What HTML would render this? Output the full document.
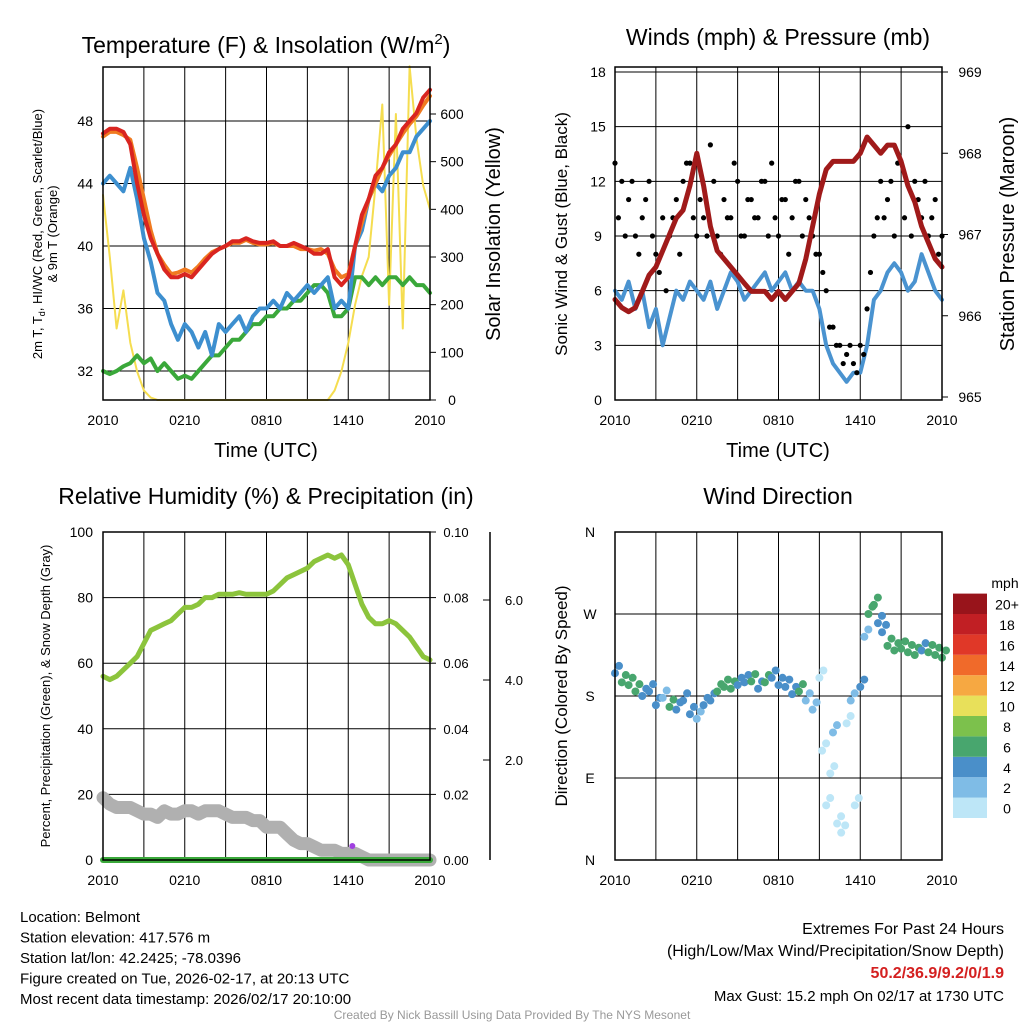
<!DOCTYPE html>
<html><head><meta charset="utf-8"><style>
body{margin:0;background:#fff}
svg text{font-family:"Liberation Sans",sans-serif}
</style></head><body>
<svg id="c" width="1024" height="1024" viewBox="0 0 1024 1024" xmlns="http://www.w3.org/2000/svg"></svg>
<script>
// ---- data (values every 30 min from 2010 UTC to 2010 UTC) ----
const timeLabels=["2010","0210","0810","1410","2010"];
const tempT=[47.2,47.5,47.5,47.3,46.5,44,42,40.5,39.5,38.5,38,38,38.2,38,38.5,39,39.5,39.8,40,40.3,40.3,40.5,40.3,40.2,40.2,40.3,40,40,40.2,40,39.8,39.5,39.5,39.8,38,37.5,38,40,42,43,44.5,45,46,46.5,47.5,48,48.5,49.5,50];
const temp9m=[47,47.3,47.3,47.1,46.8,45,43,41,39.5,38.8,38.2,38.3,38.5,38.3,38.7,39.2,39.6,39.8,40,40.2,40.2,40.4,40.2,40.1,40.1,40.2,40,40,40,39.8,39.8,39.7,39.8,39.5,38.5,38,38.2,40,41.5,43,44,45,45.8,46.5,47.2,47.8,48.3,49,49.6];
const windChill=[44,44.5,44,43.5,45,43,40.5,39,37,36.5,35,34,35,34.5,33.5,34.5,33,35,34.5,35,35.5,34.5,35.5,36,36,36.5,36,37,36.5,37,37.5,37,37.5,38,36,36.5,36,40,41,43,44,43.5,44.5,45,46,46,47,47.5,48];
const dewPt=[32,31.8,32,32.3,32.5,33,32.5,32.8,32,32.5,32,31.5,31.7,31.5,32,32.5,33,33,33.5,34,34,34.5,35,35,35.5,35.5,36,36,36.5,36.5,37,37.5,37.5,37,35.5,35.5,36,38,38,37.5,38,37.5,38,38,37.5,38,37.5,37.5,37];
const solar=[430,300,150,230,120,60,20,5,0,0,0,0,0,0,0,0,0,0,0,0,0,0,0,0,0,0,0,0,0,0,0,0,0,0,20,60,120,200,260,300,450,620,200,600,150,700,550,450,400];
const tempTicks=[32,36,40,44,48];
const solarTicks=[0,100,200,300,400,500,600];
const sonic=[6,5.5,6.5,5,6,4,5,3,4.5,6,5.5,6.5,6,5.5,6.5,5,6,7,6.5,5.5,6,6.5,7,6,6.5,7,6,6.5,6,6,5,3,2,1.5,1,1.5,1.5,3,5.5,6,7,7.5,7,6,6.5,8,7,6,5.5];
const gustA=[13,12,11,9,10,12,8,10,9,11,12,13,9,10,14,9,11,10,12,9,11,10,12,13,9,11,10,12,11,9,8,6,4,3,2.5,2,3,5,9,12,11,9,13,15,12,10,9,11,9];
const gustB=[10,9,12,8,11,9,7,6,10,8,13,10,11,9,12,8,10,13,9,11,10,12,9,10,11,8,12,9,10,8,7,4,3,2,3,1.5,2.5,7,10,10,12,13,10,9,11,12,10,8,9];
const pressure=[966.2,966.1,966.05,966.1,966.3,966.5,966.6,966.8,967.0,967.2,967.3,967.6,968.0,967.6,967.1,966.8,966.7,966.6,966.5,966.4,966.3,966.3,966.3,966.2,966.3,966.2,966.3,966.4,966.7,967.1,967.5,967.8,967.9,967.9,967.9,967.9,968.0,968.2,968.1,968.0,968.1,968.1,967.9,967.6,967.4,967.1,966.9,966.7,966.6];
const windTicks=[0,3,6,9,12,15,18];
const presTicks=[965,966,967,968,969];
const rh=[56,55,56,58,60,62,66,70,71,72,73,75,77,77,78,80,80,81,81,81,81.5,81,81,81,81,82,84,86,87,88,89,91,92,93,92,93,90,84,78,74,72,72,73,72,70,68,65,62,61];
const snowPct=[19,17,16,16,16,15,14,14,13,15,14,14,15,15,14,15,15,15,14,13,13,13,12,12,10,10,10,8,6,5,5,4,3,3,3,2,2,2,1,0,0,0,0,0,0,0,0,0,0];
const precip=[0,0,0,0,0,0,0,0,0,0,0,0,0,0,0,0,0,0,0,0,0,0,0,0,0,0,0,0,0,0,0,0,0,0,0,0,0,0,0,0,0,0,0,0,0,0,0,0,0];
const rhTicks=[0,20,40,60,80,100];
const precipTicks=["0.00","0.02","0.04","0.06","0.08","0.10"];
const snowTicks=["2.0","4.0","6.0"];
const dirHours=[0,0.5,1,1.5,2,2.5,3,3.5,4,4.5,5,5.5,6,6.5,7,7.5,8,8.5,9,9.5,10,10.5,11,11.5,12,12.5,13,13.5,14,14.5,15,15.2,15.5,15.8,16,16.3,16.6,17,17.3,17.6,18,18.3,18.6,19,19.3,19.6,20,20.5,21,21.5,22,22.5,23,23.5,24];
const dirDeg=[205,195,192,185,180,185,170,178,168,165,175,160,155,170,175,185,190,188,192,195,196,188,195,200,192,190,182,185,175,165,200,120,60,95,140,40,30,150,175,60,190,245,270,280,260,250,235,230,232,228,225,230,228,225,222];
const dirSpeed=[5,6,7,6,5,4,4,3,6,4,5,4,3,4,5,7,6,6,5,4,6,5,6,4,5,4,5,6,3,2,1,1,0,1,2,0,1,1,2,0,4,3,7,6,5,4,7,6,6,7,6,5,7,6,6];
const speedLabels=["0","2","4","6","8","10","12","14","16","18","20+"];
const speedColors=["#bde6f7","#7fbce6","#4a8fc9","#48a66e","#7cc14c","#e8e05a","#f6a842","#f06a2a","#e03828","#c11f24","#98141b"];

const NS="http://www.w3.org/2000/svg";
const svg=document.getElementById('c');
function mk(tag,attrs,name,parent){const e=document.createElementNS(NS,tag);for(const k in attrs)e.setAttribute(k,attrs[k]);


(parent||svg).appendChild(e);return e;}
function txt(x,y,s,size,anchor,name,extra){const t=mk('text',Object.assign({x:x,y:y,'font-size':size,'text-anchor':anchor||'middle',fill:'#000'},extra||{}),name);t.textContent=s;return t;}
function xs(p,h){return p.x0+h/24*(p.x1-p.x0);}
function lin(d0,d1,r0,r1){return v=>r0+(v-d0)/(d1-d0)*(r1-r0);}
function series(p,arr,yf,color,w,name){let d='';arr.forEach((v,i)=>{const h=i*24/(arr.length-1);d+=(i?'L':'M')+xs(p,h).toFixed(1)+','+yf(v).toFixed(1);});
mk('path',{d:d,fill:'none',stroke:color,'stroke-width':w,'stroke-linejoin':'round','stroke-linecap':'round'},name);}
function frame(p){
  for(let k=1;k<8;k++){const x=p.x0+k*(p.x1-p.x0)/8;mk('line',{x1:x,x2:x,y1:p.y0,y2:p.y1,stroke:'#000','stroke-width':1},'v-gridline');}
  timeLabels.forEach((l,i)=>{const x=p.x0+i*(p.x1-p.x0)/4;txt(x,p.y1+25,l,14,'middle','x-tick-label');});
}
function box(p){mk('rect',{x:p.x0,y:p.y0,width:p.x1-p.x0,height:p.y1-p.y0,fill:'none',stroke:'#000','stroke-width':1.5},'plot-border');}

// ---- Panel 1 ----
const p1={x0:103,x1:430,y0:67,y1:400};
const yT=lin(32,48,371,121), yS=lin(0,600,400,114);
frame(p1);
tempTicks.forEach(v=>{mk('line',{x1:p1.x0,x2:p1.x1,y1:yT(v),y2:yT(v),stroke:'#000'},'h-gridline');txt(p1.x0-10,yT(v)+5,v,14,'end','y-tick-label');});
solarTicks.forEach(v=>{mk('line',{x1:p1.x1,x2:p1.x1+6,y1:yS(v),y2:yS(v),stroke:'#000'},'y2-tick');txt(p1.x1+22,yS(v)+5,v,14,'middle','y2-tick-label');});
series(p1,solar,yS,'#f5dd50',2,'solar-line');
series(p1,dewPt,yT,'#3aa83a',4,'dewpoint-line');
series(p1,windChill,yT,'#3d8fcf',4,'windchill-line');
series(p1,temp9m,yT,'#f07a20',4,'temp-9m-line');
series(p1,tempT,yT,'#d92520',4,'temp-2m-line');
box(p1);
txt(266,53,'',23,'middle','panel1-title').innerHTML='Temperature (F) &amp; Insolation (W/m<tspan dy="-9" font-size="15">2</tspan><tspan dy="9">)</tspan>';
txt(266,457,'Time (UTC)',20,'middle','x-axis-title');
const yl=txt(0,0,'',13,'middle','y-axis-title-left');yl.setAttribute('transform','translate(42,234) rotate(-90)');
yl.innerHTML='2m T, T<tspan dy="3" font-size="9">d</tspan><tspan dy="-3">, HI/WC (Red, Green, Scarlet/Blue)</tspan>';
const yl2=txt(0,0,'& 9m T (Orange)',13,'middle','y-axis-title-left2');yl2.setAttribute('transform','translate(57,234) rotate(-90)');
const yr=txt(0,0,'Solar Insolation (Yellow)',20,'middle','y-axis-title-right');yr.setAttribute('transform','translate(500,234) rotate(-90)');

// ---- Panel 2 ----
const p2={x0:615,x1:942,y0:67,y1:400};
const yW=lin(0,18,400,72), yP=lin(965,969,397,72);
frame(p2);
windTicks.forEach(v=>{mk('line',{x1:p2.x0,x2:p2.x1,y1:yW(v),y2:yW(v),stroke:'#000'},'h-gridline');txt(p2.x0-17,yW(v)+5,v,14,'middle','y-tick-label');});
presTicks.forEach(v=>{mk('line',{x1:p2.x1,x2:p2.x1+6,y1:yP(v),y2:yP(v),stroke:'#000'},'y2-tick');txt(p2.x1+28,yP(v)+5,v,14,'middle','y2-tick-label');});
series(p2,sonic,yW,'#4a93d0',4,'sonic-wind-line');
[gustA,gustB].forEach((arr,k)=>arr.forEach((v,i)=>{const h=i*24/(arr.length-1)+k*0.25;if(h>24)return;
const c=mk('circle',{cx:xs(p2,h),cy:yW(v),r:2.6,fill:'#000'},'gust-point');}));
series(p2,pressure,yP,'#a01a1a',5,'pressure-line');
box(p2);
txt(778,45,'Winds (mph) & Pressure (mb)',23,'middle','panel2-title');
txt(778,457,'Time (UTC)',20,'middle','x-axis-title');
const y2l=txt(0,0,'Sonic Wind & Gust (Blue, Black)',17,'middle','y-axis-title-left');y2l.setAttribute('transform','translate(567,234) rotate(-90)');
const y2r=txt(0,0,'Station Pressure (Maroon)',20,'middle','y-axis-title-right');y2r.setAttribute('transform','translate(1014,234) rotate(-90)');

// ---- Panel 3 ----
const p3={x0:103,x1:430,y0:532,y1:860};
const yR=lin(0,100,860,532), ySn=lin(0,2,840,760);
frame(p3);
rhTicks.forEach(v=>{mk('line',{x1:p3.x0,x2:p3.x1,y1:yR(v),y2:yR(v),stroke:'#000'},'h-gridline');txt(p3.x0-10,yR(v)+5,v,14,'end','y-tick-label');});
precipTicks.forEach((l,i)=>{const y=yR(i*20);mk('line',{x1:p3.x1,x2:p3.x1+6,y1:y,y2:y,stroke:'#000'},'precip-tick');txt(p3.x1+26,y+5,l,13,'middle','precip-tick-label');});
mk('line',{x1:490,x2:490,y1:532,y2:860,stroke:'#000','stroke-width':1.5},'snow-axis');
snowTicks.forEach((l,i)=>{const y=ySn((i+1)*2);mk('line',{x1:483,x2:490,y1:y,y2:y,stroke:'#000'},'snow-tick');txt(514,y+5,l,13,'middle','snow-tick-label');});
series(p3,snowPct,yR,'#b0b0b0',13,'snow-depth-line');
series(p3,rh,yR,'#8cc43c',5,'rh-line');
series(p3,precip,yR,'#3aa83a',6,'precip-line');
mk('circle',{cx:xs(p3,18.3),cy:846,r:3,fill:'#a040e0'},'precip-marker');
box(p3);
txt(266,504,'Relative Humidity (%) & Precipitation (in)',23,'middle','panel3-title');
const y3l=txt(0,0,'Percent, Precipitation (Green), & Snow Depth (Gray)',13,'middle','y-axis-title-left');y3l.setAttribute('transform','translate(50,696) rotate(-90)');

// ---- Panel 4 ----
const p4={x0:615,x1:942,y0:532,y1:860};
const yD=lin(0,360,860,532);
frame(p4);
["N","E","S","W","N"].forEach((l,i)=>{const y=yD(i*90);mk('line',{x1:p4.x0,x2:p4.x1,y1:y,y2:y,stroke:'#000'},'h-gridline');txt(p4.x0-25,y+5,l,14,'middle','y-tick-label');});
dirHours.forEach((h,i)=>{const c=speedColors[Math.min(10,Math.floor(dirSpeed[i]/2))];
mk('circle',{cx:xs(p4,h),cy:yD(dirDeg[i]),r:4,fill:c},'direction-point');
mk('circle',{cx:xs(p4,h)+4,cy:yD(dirDeg[i]+8),r:4,fill:c},'direction-point');});
box(p4);
txt(778,504,'Wind Direction',23,'middle','panel4-title');
const y4l=txt(0,0,'Direction (Colored By Speed)',17,'middle','y-axis-title-left');y4l.setAttribute('transform','translate(567,696) rotate(-90)');
txt(1005,588,'mph',14,'middle','colorbar-title');
speedColors.forEach((c,i)=>{const y=818-(i+1)*20.4;mk('rect',{x:953,y:y,width:34,height:20.4,fill:c},'colorbar-box');txt(1007,y+16,speedLabels[i],14,'middle','colorbar-label');});

// ---- footer ----
["Location: Belmont","Station elevation: 417.576 m","Station lat/lon: 42.2425; -78.0396","Figure created on Tue, 2026-02-17, at 20:13 UTC","Most recent data timestamp: 2026/02/17 20:10:00"].forEach((s,i)=>txt(20,922+i*20.5,s,15,'start','footer-info-line'));
txt(1004,934,'Extremes For Past 24 Hours',16,'end','extremes-title');
txt(1004,956,'(High/Low/Max Wind/Precipitation/Snow Depth)',16,'end','extremes-subtitle');
txt(1004,978,'50.2/36.9/9.2/0/1.9',16,'end','extremes-values',{fill:'#d42020','font-weight':'bold'});
txt(1004,1001,'Max Gust: 15.2 mph On 02/17 at 1730 UTC',15,'end','max-gust');
txt(512,1019,'Created By Nick Bassill Using Data Provided By The NYS Mesonet',12,'middle','credit',{fill:'#999'});
</script>
</body></html>
